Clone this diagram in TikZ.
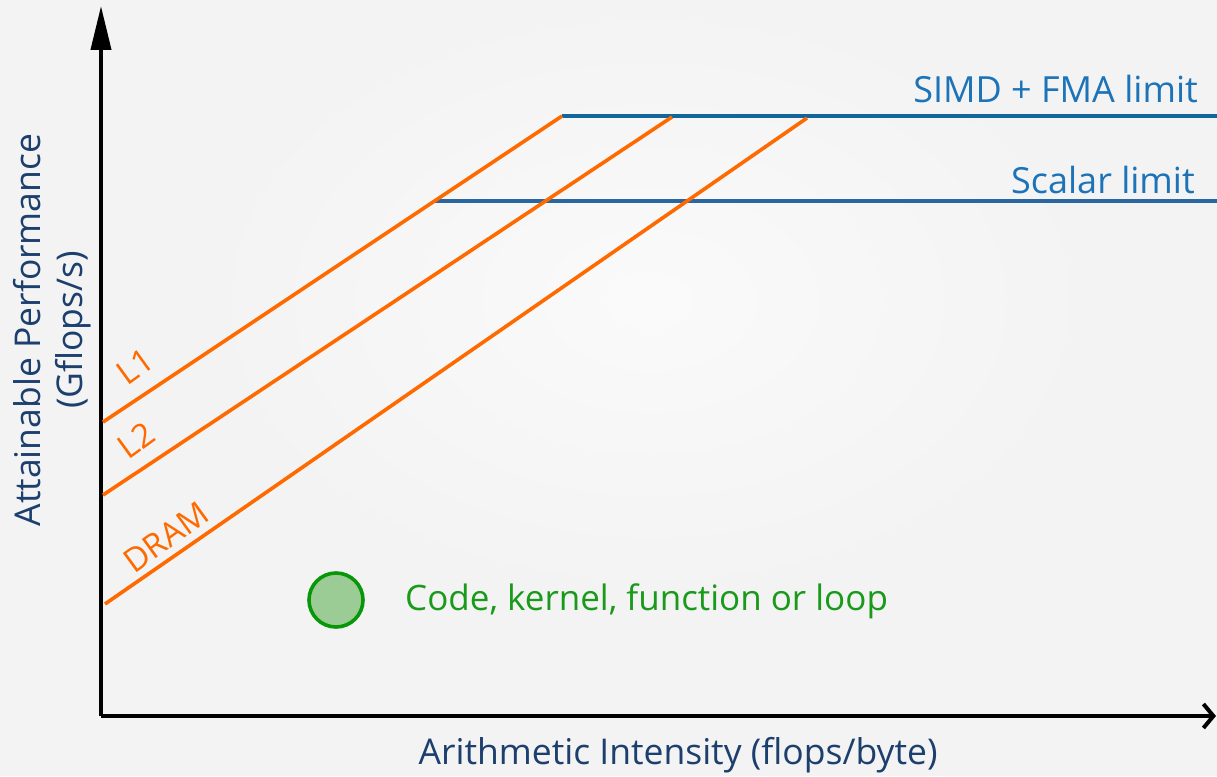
\documentclass[tikz,border=0pt]{standalone}
\usepackage{fontspec}
\setmainfont{Open Sans}
\usetikzlibrary{arrows.meta}
\definecolor{bg}{HTML}{F3F3F3}
\definecolor{roof}{HTML}{11679C}
\definecolor{roofb}{HTML}{2A67A0}
\definecolor{rooftxt}{HTML}{1C73B8}
\definecolor{axtxt}{HTML}{1D3F6E}
\definecolor{ktxt}{HTML}{1A9A1A}
\definecolor{kfill}{HTML}{9CCC96}
\definecolor{kdraw}{HTML}{0A960A}
\definecolor{orng}{HTML}{FF6A00}
\tikzset{
  bw/.style={draw=orng, line width=3.6pt},
  ceil/.style={draw=roof, line width=3.6pt},
  bwlabel/.style={text=orng, font=\fontsize{33}{36}\selectfont, rotate=36, inner sep=0pt},
  rooflabel/.style={text=rooftxt, font=\fontsize{36}{38}\selectfont, anchor=east, inner sep=0pt},
  axlabel/.style={text=axtxt, font=\fontsize{35.5}{42}\selectfont, align=center, inner sep=0pt},
}
\begin{document}
\begin{tikzpicture}[x=1pt, y=-1pt]
  % canvas
  \fill[bg] (0,0) rectangle (1217,776);
  \shade[inner color=white!60!bg, outer color=bg, draw=none] (650,300) ellipse (450 and 300);
  \useasboundingbox (0,0) rectangle (1217,776);

  % axes
  \coordinate (O) at (101,716);
  \coordinate (ytop) at (101,6);
  \coordinate (xend) at (1216,716);
  \draw[line width=4pt, -{Triangle[length=44pt, width=20pt]}] (O) -- (ytop);
  \draw[line width=4pt, -{Straight Barb[length=10pt, width=24pt, line width=4pt]}] (O) -- (xend);

  % compute ceilings
  \coordinate (s0) at (562,116);
  \coordinate (s1) at (1217,116);
  \coordinate (c0) at (435,201);
  \coordinate (c1) at (1217,201);
  \draw[ceil] (s0) -- (s1);
  \draw[ceil, draw=roofb] (c0) -- (c1);

  % bandwidth roofs
  \coordinate (l1a) at (103,422);
  \coordinate (l1b) at (562,116);
  \coordinate (l2a) at (103,495);
  \coordinate (l2b) at (672,117);
  \coordinate (dra) at (105,604);
  \coordinate (drb) at (807,118);
  \draw[bw] (l1a) -- (l1b);
  \draw[bw] (l2a) -- (l2b);
  \draw[bw] (dra) -- (drb);

  % labels
  \node[rooflabel] (simd) at (1198,89) {SIMD + FMA limit};
  \node[rooflabel] (scal) at (1195,180) {Scalar limit};
  \node[bwlabel] (tl1) at (135,366) {L1};
  \node[bwlabel] (tl2) at (136,440) {L2};
  \node[bwlabel] (tdr) at (166,537) {DRAM};

  % axis titles
  \node[axlabel, rotate=90] (ylab) at (52,330) {Attainable Performance\\(Gflops/s)};
  \node[axlabel] (xlab) at (678,755) {Arithmetic Intensity (flops/byte)};

  % legend marker
  \node[circle, minimum size=54pt, inner sep=0pt, fill=kfill, draw=kdraw, line width=3.6pt] (kern) at (336,600) {};
  \node[text=ktxt, font=\fontsize{35}{38}\selectfont, anchor=west, inner sep=0pt] (ktext) at (405,601) {Code, kernel, function or loop};
\end{tikzpicture}
\end{document}
